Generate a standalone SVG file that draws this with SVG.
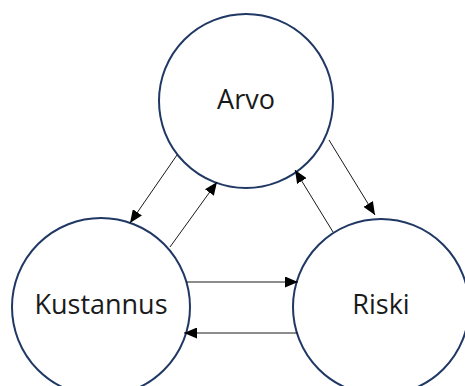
<svg xmlns="http://www.w3.org/2000/svg" width="465" height="386" viewBox="0 0 465 386">
<style>
.node{fill:#fff;stroke:#203864;stroke-width:2}
.lbl{font-family:"Open Sans","Liberation Sans",sans-serif;font-size:27px;fill:#1a1a1a;text-anchor:middle;dominant-baseline:central}
.edge{stroke:#1a1a1a;stroke-width:1;fill:none;marker-end:url(#ah)}
</style>
<defs>
<marker id="ah" viewBox="0 0 13 11" refX="13" refY="5.5" markerWidth="13" markerHeight="11" markerUnits="userSpaceOnUse" orient="auto">
<path d="M0,0 L13,5.5 L0,11 Z" fill="#000"/>
</marker>
</defs>
<rect width="465" height="386" fill="#fff"/>
<g id="arvo"><circle class="node" cx="246" cy="101" r="87"/><text class="lbl" x="246" y="98">Arvo</text></g>
<g id="kustannus"><circle class="node" cx="101" cy="307" r="89"/><text class="lbl" x="101" y="303">Kustannus</text></g>
<g id="riski"><circle class="node" cx="381" cy="307" r="88"/><text class="lbl" x="381" y="303">Riski</text></g>
<g id="connectors">
<line class="edge" x1="177" y1="155" x2="130" y2="223"/>
<line class="edge" x1="170" y1="247" x2="217" y2="182"/>
<line class="edge" x1="329" y1="140" x2="375" y2="215"/>
<line class="edge" x1="333" y1="232" x2="295" y2="170"/>
<line class="edge" x1="186" y1="282" x2="298" y2="282"/>
<line class="edge" x1="298" y1="333" x2="184" y2="333"/>
</g>
</svg>
